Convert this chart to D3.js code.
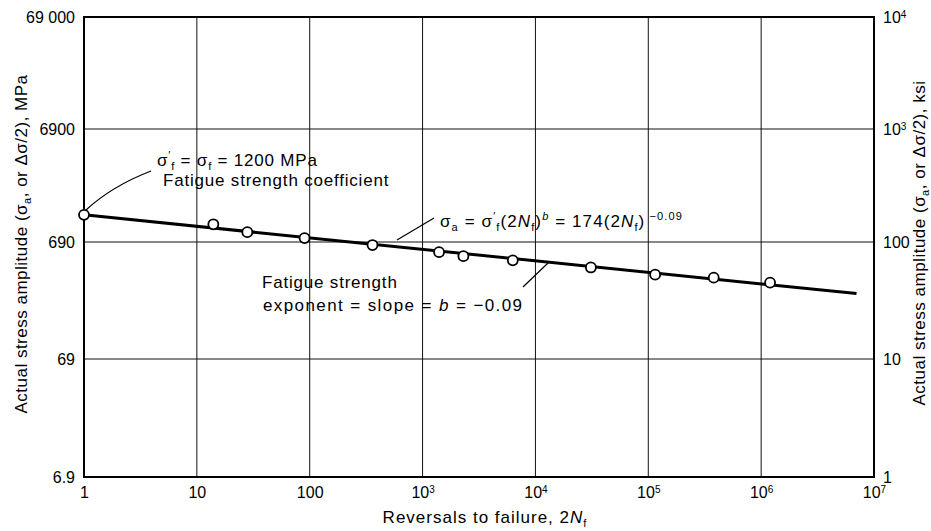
<!DOCTYPE html>
<html>
<head>
<meta charset="utf-8">
<script src="https://cdn.jsdelivr.net/npm/d3@7"></script>
<style>
body { margin: 0; background: #fff; }
text { font-family: "Liberation Sans", Arial, sans-serif; fill: #000; }
.tick text { font-family: "Liberation Sans Narrow", "Liberation Sans", Arial, sans-serif; font-size: 16px; }
</style>
</head>
<body>
<script>
// test points: reversals to failure (2Nf) and stress amplitude (MPa)
var reversals = [1, 14, 28, 90, 360, 1400, 2300, 6300, 31000, 115000, 380000, 1200000];
var stressMPa = [1200, 990, 843, 747, 650, 565, 522, 481, 418, 363, 342, 310];

// fitted line, sigma_a = 1200 (2Nf)^-0.09 as drawn
var fitReversals = [1, 7000000];
var fitStress = [1200, 250];

var xTicks = [1, 10, 100, 1e3, 1e4, 1e5, 1e6, 1e7];
var xTickLabels = [["1", ""], ["10", ""], ["100", ""], ["10", "3"], ["10", "4"], ["10", "5"], ["10", "6"], ["10", "7"]];
var mpaTicks = [6.9, 69, 690, 6900, 69000];
var mpaTickLabels = ["6.9", "69", "690", "6900", "69 000"];
var ksiTicks = [1, 10, 100, 1000, 10000];
var ksiTickLabels = [["1", ""], ["10", ""], ["100", ""], ["10", "3"], ["10", "4"]];

var width = 931, height = 531;
var pLeft = 84, pRight = 874, pTop = 17, pBottom = 477;

var svg = d3.select("body").append("svg")
    .attr("width", width)
    .attr("height", height);

var x = d3.scaleLog().domain([1, 1e7]).range([pLeft, pRight]);
// the printed decades are not quite even, so the scale is piecewise
var yRange = [pBottom, 359, 242, 129, pTop];
var y = d3.scaleLog().domain(mpaTicks).range(yRange);
var yKsi = d3.scaleLog().domain(ksiTicks).range(yRange);

// grid
svg.append("g").selectAll("line").data(xTicks.slice(1, -1)).enter()
    .append("line")
    .attr("x1", function(d) { return x(d); })
    .attr("x2", function(d) { return x(d); })
    .attr("y1", pTop).attr("y2", pBottom)
    .attr("stroke", "#111").attr("stroke-width", 1);
svg.append("g").selectAll("line").data(mpaTicks.slice(1, -1)).enter()
    .append("line")
    .attr("y1", function(d) { return y(d); })
    .attr("y2", function(d) { return y(d); })
    .attr("x1", pLeft).attr("x2", pRight)
    .attr("stroke", "#111").attr("stroke-width", 1);

svg.append("rect")
    .attr("x", pLeft).attr("y", pTop)
    .attr("width", pRight - pLeft).attr("height", pBottom - pTop)
    .attr("fill", "none").attr("stroke", "#000").attr("stroke-width", 2);

function supLabels(sel, labels) {
    sel.selectAll(".tick text").each(function(d, i) {
        var t = d3.select(this);
        var lab = labels[i];
        t.text(lab[0]);
        if (lab[1]) {
            t.append("tspan").attr("dy", "-0.5em").style("font-size", "10px").text(lab[1]);
        }
    });
}

var xAxis = svg.append("g")
    .attr("transform", "translate(0," + pBottom + ")")
    .call(d3.axisBottom(x).tickValues(xTicks).tickSize(0).tickPadding(10));
supLabels(xAxis, xTickLabels);

var yAxis = svg.append("g")
    .attr("transform", "translate(" + pLeft + ",0)")
    .call(d3.axisLeft(y).tickValues(mpaTicks).tickSize(0).tickPadding(9)
        .tickFormat(function(d, i) { return mpaTickLabels[i]; }));

var kAxis = svg.append("g")
    .attr("transform", "translate(" + pRight + ",0)")
    .call(d3.axisRight(yKsi).tickValues(ksiTicks).tickSize(0).tickPadding(9));
supLabels(kAxis, ksiTickLabels);

svg.selectAll(".domain").remove();

// fitted line
var line = d3.line()
    .x(function(d) { return x(d[0]); })
    .y(function(d) { return y(d[1]); });
svg.append("path")
    .datum(d3.zip(fitReversals, fitStress))
    .attr("d", line)
    .attr("fill", "none").attr("stroke", "#000").attr("stroke-width", 3);

// points
svg.append("g").selectAll("circle").data(d3.zip(reversals, stressMPa)).enter()
    .append("circle")
    .attr("cx", function(d) { return x(d[0]); })
    .attr("cy", function(d) { return y(d[1]); })
    .attr("r", 5)
    .attr("fill", "#fff").attr("stroke", "#000").attr("stroke-width", 1.8);

// rich text helper: parts are [text, "sub"|"sup"|"", italic]
function rich(px, py, parts, size, spacing, anchor, rotate) {
    var t = svg.append("text")
        .attr("x", px).attr("y", py)
        .style("font-size", size + "px")
        .style("letter-spacing", spacing + "px")
        .attr("text-anchor", anchor || "start");
    if (rotate) t.attr("transform", "rotate(" + rotate + "," + px + "," + py + ")");
    var shift = 0;
    parts.forEach(function(p) {
        var s = t.append("tspan").text(p[0]);
        var want = p[1] == "sub" ? 4 : p[1] == "sup" ? -7 : 0;
        s.attr("dy", want - shift);
        shift = want;
        if (p[1]) s.style("font-size", (size * 0.65) + "px");
        if (p[2]) s.style("font-style", "italic");
    });
    return t;
}

// annotations
rich(157, 166, [["σ", ""], ["′", "sup"], ["f", "sub"], [" = σ", ""], ["f", "sub"], [" = 1200 MPa", ""]], 17, 0.8);
rich(163, 186, [["Fatigue strength coefficient", ""]], 17, 0.8);
rich(440, 227, [["σ", ""], ["a", "sub"], [" = σ", ""], ["′", "sup"], ["f", "sub"], ["(2", ""], ["N", "", true], ["f", "sub"],
    [")", ""], ["b", "sup", true], [" = 174(2", ""], ["N", "", true], ["f", "sub"], [")", ""], ["   −0.09", "sup"]], 17, 1.1);
rich(262, 288, [["Fatigue strength", ""]], 17, 0.8);
rich(263, 311, [["exponent = slope = ", ""], ["b", "", true], [" = −0.09", ""]], 17, 1.4);

var leaders = [
    "M86,210 Q112,186 151,171",
    "M397,240 L434,218",
    "M523,287 L548,263"
];
svg.append("g").selectAll("path").data(leaders).enter()
    .append("path")
    .attr("d", function(d) { return d; })
    .attr("fill", "none").attr("stroke", "#000").attr("stroke-width", 1.2);

// axis titles
rich(485, 523, [["Reversals to failure, 2", ""], ["N", "", true], ["f", "sub"]], 17, 1, "middle");
rich(27, 244, [["Actual stress amplitude (σ", ""], ["a", "sub"], [", or Δσ/2), MPa", ""]], 17, 0.5, "middle", -90);
rich(925, 243, [["Actual stress amplitude (σ", ""], ["a", "sub"], [", or Δσ/2), ksi", ""]], 17, 0.5, "middle", -90);
</script>
</body>
</html>
